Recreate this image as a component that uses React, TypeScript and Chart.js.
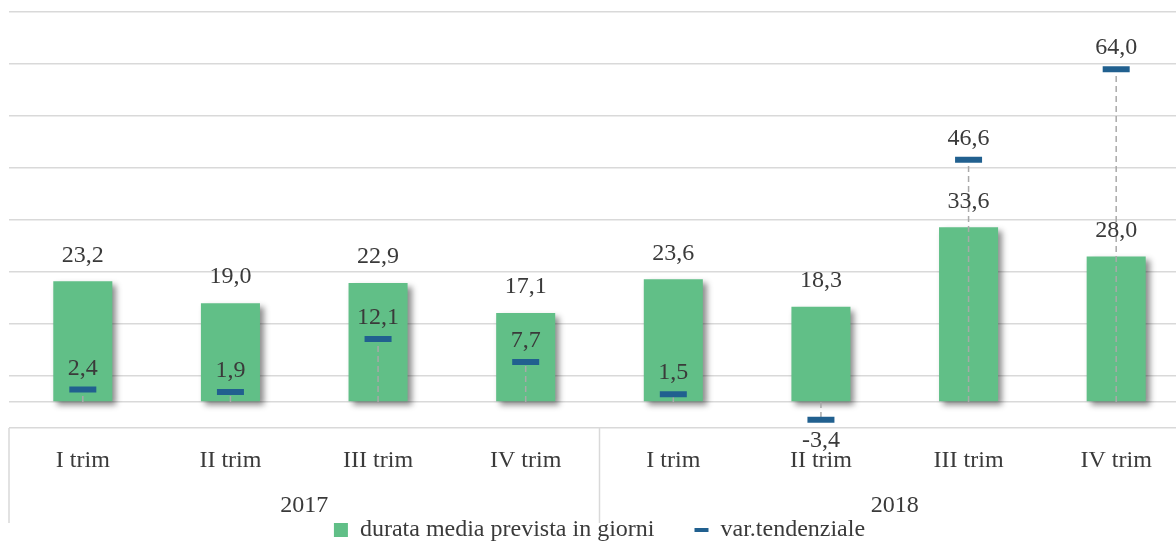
import React, { useEffect, useRef } from 'react';
import { Chart, registerables } from 'chart.js';

Chart.register(...registerables);

const quarters = ['I trim', 'II trim', 'III trim', 'IV trim', 'I trim', 'II trim', 'III trim', 'IV trim'];
const years = ['2017', '2018'];
const durata = [23.2, 19.0, 22.9, 17.1, 23.6, 18.3, 33.6, 28.0];
const varTend = [2.4, 1.9, 12.1, 7.7, 1.5, -3.4, 46.6, 64.0];
const yTickValues = [-5, 0, 5, 15, 25, 35, 45, 55, 65, 75];
const legendLabels = ['durata media prevista in giorni', 'var.tendenziale'];

const GREEN = '#61BF87';
const BLUE = '#21608F';
const GRID = '#D9D9D9';
const DROP = '#A9A9A9';
const TEXT = '#3A3A3A';
const FONT = "'Liberation Serif', 'Times New Roman', serif";
const FS = 24;

const fmt = (v: number) => v.toFixed(1).replace('.', ',');

const decor = {
  id: 'decor',
  beforeDatasetDraw(chart: any, args: any) {
    if (args.index !== 0) return;
    const ctx = chart.ctx;
    ctx.save();
    ctx.shadowColor = 'rgba(0,0,0,0.45)';
    ctx.shadowBlur = 6;
    ctx.shadowOffsetX = 4;
    ctx.shadowOffsetY = 4;
  },
  afterDatasetDraw(chart: any, args: any) {
    if (args.index !== 0) return;
    const ctx = chart.ctx;
    ctx.restore();
    const y0 = chart.scales.y.getPixelForValue(0);
    const meta = chart.getDatasetMeta(1);
    ctx.save();
    ctx.strokeStyle = DROP;
    ctx.lineWidth = 1.5;
    ctx.setLineDash([6, 4]);
    meta.data.forEach((pt: any) => {
      ctx.beginPath();
      ctx.moveTo(pt.x, y0);
      ctx.lineTo(pt.x, pt.y);
      ctx.stroke();
    });
    ctx.restore();
  },
  afterDatasetsDraw(chart: any) {
    const ctx = chart.ctx;
    ctx.save();
    ctx.font = `${FS}px ${FONT}`;
    ctx.fillStyle = TEXT;
    ctx.textAlign = 'center';
    ctx.textBaseline = 'middle';
    const bars = chart.getDatasetMeta(0).data;
    bars.forEach((b: any, i: number) => {
      ctx.fillText(fmt(durata[i]), b.x, b.y - 26);
    });
    const pts = chart.getDatasetMeta(1).data;
    pts.forEach((p: any, i: number) => {
      const v = varTend[i];
      ctx.fillText(fmt(v), p.x, v < 0 ? p.y + 21 : p.y - 21);
    });
    ctx.restore();
  },
  afterDraw(chart: any) {
    const ctx = chart.ctx;
    const area = chart.chartArea;
    const xs = chart.scales.x;
    const mid = (xs.getPixelForTick(3) + xs.getPixelForTick(4)) / 2;
    ctx.save();
    ctx.strokeStyle = GRID;
    ctx.lineWidth = 1.5;
    [area.left, mid, area.right].forEach((x) => {
      ctx.beginPath();
      ctx.moveTo(x, area.bottom);
      ctx.lineTo(x, area.bottom + 95);
      ctx.stroke();
    });
    ctx.restore();
  },
};

export default function App() {
  const ref = useRef<HTMLCanvasElement>(null);
  useEffect(() => {
    Chart.defaults.font.family = FONT;
    const chart = new Chart(ref.current as HTMLCanvasElement, {
      type: 'bar',
      data: {
        labels: quarters,
        datasets: [
          {
            type: 'bar',
            label: legendLabels[0],
            data: durata,
            backgroundColor: GREEN,
            borderWidth: 0,
            barPercentage: 0.4,
            categoryPercentage: 1,
            order: 1,
          },
          {
            type: 'line',
            label: legendLabels[1],
            data: varTend,
            showLine: false,
            pointStyle: 'line',
            pointRadius: 13.5,
            pointHoverRadius: 13.5,
            pointBorderWidth: 6,
            pointHoverBorderWidth: 6,
            pointBorderColor: BLUE,
            pointBackgroundColor: BLUE,
            borderColor: BLUE,
            backgroundColor: BLUE,
            order: 0,
          },
        ],
      } as any,
      options: {
        animation: false,
        responsive: false,
        events: [],
        layout: { autoPadding: false, padding: { left: 9, right: 10, top: 12, bottom: 0 } },
        plugins: {
          tooltip: { enabled: false },
          legend: {
            position: 'bottom',
            labels: {
              usePointStyle: true,
              pointStyleWidth: 14,
              boxHeight: 14,
              padding: 40,
              color: TEXT,
              font: { size: FS, family: FONT },
              generateLabels: () => [
                { text: legendLabels[0], fillStyle: GREEN, strokeStyle: GREEN, fontColor: TEXT, lineWidth: 0, pointStyle: 'rect', datasetIndex: 0, hidden: false },
                { text: legendLabels[1], fillStyle: BLUE, strokeStyle: BLUE, fontColor: TEXT, lineWidth: 4, pointStyle: 'line', datasetIndex: 1, hidden: false },
              ],
            },
          },
        },
        scales: {
          x: {
            type: 'category',
            offset: true,
            grid: { display: false },
            border: { display: false },
            ticks: { padding: 10.6, color: TEXT, font: { size: FS, family: FONT }, maxRotation: 0, autoSkip: false },
            afterFit: (s: any) => { s.height = 50; },
          },
          x2: {
            type: 'category',
            labels: years,
            position: 'bottom',
            offset: true,
            weight: 1,
            grid: { display: false },
            border: { display: false },
            ticks: { mirror: true, padding: -42.4, color: TEXT, font: { size: FS, family: FONT }, maxRotation: 0, autoSkip: false },
            afterFit: (s: any) => { s.height = 0; },
          },
          y: {
            min: -5,
            max: 75,
            ticks: { display: false },
            grid: { color: GRID, lineWidth: 1.5, drawTicks: false },
            border: { display: false },
            afterBuildTicks: (s: any) => { s.ticks = yTickValues.map((v) => ({ value: v })); },
          },
        },
      } as any,
      plugins: [decor],
    });
    return () => chart.destroy();
  }, []);
  return (
    <div style={{ position: 'fixed', left: 0, top: 0, width: 1176, height: 542, overflow: 'hidden', background: '#fff' }}>
      <canvas ref={ref} width={1200} height={552} style={{ display: 'block' }} />
    </div>
  );
}
